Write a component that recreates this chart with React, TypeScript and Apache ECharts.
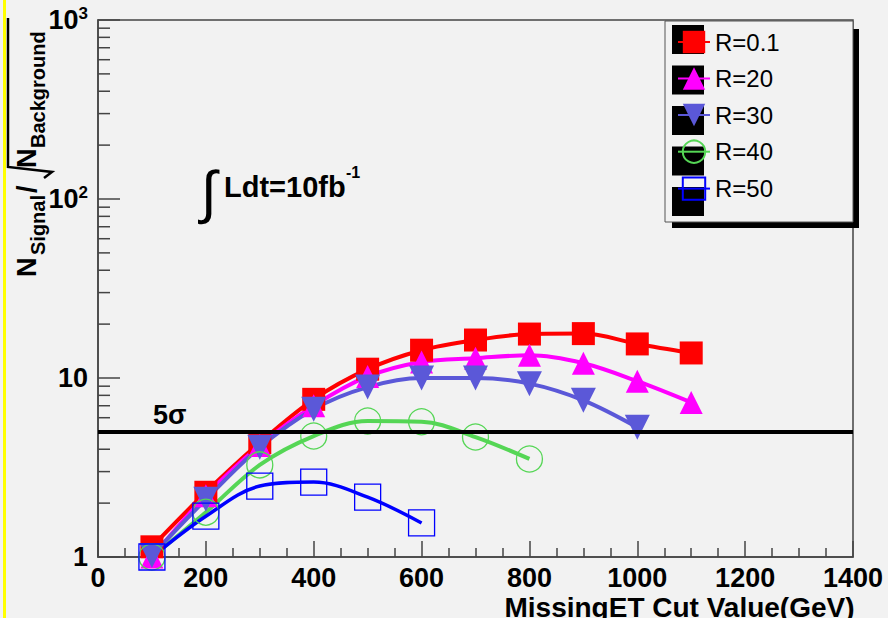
import React, { useEffect, useRef } from "react";
import * as echarts from "echarts";

// ---------------- data ----------------
const cutValues = [100, 200, 300, 400, 500, 600, 700, 800, 900, 1000, 1100];
const seriesNames = ["R=0.1", "R=20", "R=30", "R=40", "R=50"];
const sigR01 = [1.14, 2.3, 4.35, 7.6, 11.2, 14.3, 16.3, 17.6, 17.7, 15.5, 13.8];
const sigR20 = [1.0, 2.2, 4.2, 7.0, 10.2, 12.3, 12.9, 13.4, 12.1, 9.6, 7.3];
const sigR30 = [1.02, 2.1, 4.1, 6.7, 8.9, 10.0, 10.0, 9.3, 7.5, 5.3];
const sigR40 = [1.0, 1.78, 3.27, 4.74, 5.75, 5.7, 4.68, 3.53];
const sigR50 = [1.0, 1.69, 2.49, 2.62, 2.16, 1.55];
const fiveSigma = 5;
const yMinorTicks = [2, 3, 4, 5, 6, 7, 8, 9, 20, 30, 40, 50, 60, 70, 80, 90, 200, 300, 400, 500, 600, 700, 800, 900];
const seriesColors = ["#ff0000", "#ff00ff", "#5b58d8", "#55d655", "#0000ff"];

const FONT = '"Liberation Sans", Arial, Helvetica, sans-serif';

const pair = (vals: number[]) => vals.map((v, i) => [cutValues[i], v]);

const LEG_TOP = 25;
const LEG_LEFT = 672;
const LEG_IH = 28;
const LEG_GAP = 12.5;

export default function App() {
  const ref = useRef<HTMLDivElement>(null);

  useEffect(() => {
    if (!ref.current) return;
    const chart = echarts.init(ref.current, undefined, { renderer: "svg" });

    const baseLine = (i: number, vals: number[], symbol: string, size: number, hollow: boolean, extra: any = {}) => ({
      name: seriesNames[i],
      type: "line",
      data: pair(vals),
      smooth: 0.35,
      symbol,
      symbolSize: size,
      showAllSymbol: true,
      clip: false,
      itemStyle: hollow
        ? { color: "rgba(0,0,0,0)", borderColor: seriesColors[i], borderWidth: 1.3 }
        : { color: seriesColors[i] },
      lineStyle: { color: seriesColors[i], width: 4 },
      emphasis: { disabled: true },
      ...extra,
    });

    const legendBoxes = seriesNames.map((_, i) => ({
      type: "rect",
      z: 3,
      silent: true,
      shape: { x: LEG_LEFT, y: LEG_TOP + i * (LEG_IH + LEG_GAP), width: 32, height: LEG_IH + 1 },
      style: { fill: "#000" },
    }));

    const option: any = {
      animation: false,
      backgroundColor: "#f2f2f2",
      textStyle: { fontFamily: FONT },
      grid: {
        left: 98,
        top: 20,
        right: 35,
        bottom: 61,
        containLabel: false,
        outerBoundsMode: "none",
        show: true,
        borderColor: "#444",
        borderWidth: 1.5,
        backgroundColor: "transparent",
      },
      xAxis: {
        type: "value",
        min: 0,
        max: 1400,
        interval: 200,
        name: "MissingET Cut Value(GeV)",
        nameLocation: "middle",
        nameGap: 39,
        nameMoveOverlap: false,
        nameTextStyle: {
          padding: [0, 0, 0, 408],
          fontSize: 28,
          lineHeight: 22,
          fontWeight: "bold",
          fontFamily: FONT,
          color: "#000",
        },
        axisLine: { show: true, lineStyle: { color: "#444", width: 1.5 } },
        axisTick: { show: true, inside: true, length: 16, lineStyle: { color: "#444", width: 1.5 } },
        minorTick: { show: true, splitNumber: 4, length: 9, lineStyle: { color: "#444", width: 1.5 } },
        splitLine: { show: false },
        axisLabel: {
          margin: 7,
          fontSize: 27,
          fontWeight: "bold",
          fontFamily: FONT,
          color: "#000",
          formatter: (v: number) => String(v),
        },
      },
      yAxis: {
        type: "log",
        logBase: 10,
        min: 1,
        max: 1000,
        axisLine: { show: true, lineStyle: { color: "#444", width: 1.5 } },
        axisTick: { show: true, inside: true, length: 22, lineStyle: { color: "#444", width: 1.5 } },
        splitLine: { show: false },
        axisLabel: {
          margin: 10,
          fontSize: 27,
          fontWeight: "bold",
          fontFamily: FONT,
          color: "#000",
          formatter: (v: number) => {
            const p = Math.round(Math.log10(v));
            if (p <= 1) return String(Math.round(v));
            return "{b|10}{s|" + p + "}";
          },
          rich: {
            b: { fontSize: 27, fontWeight: "bold", fontFamily: FONT, color: "#000", lineHeight: 30 },
            s: { fontSize: 17, fontWeight: "bold", fontFamily: FONT, color: "#000", lineHeight: 10, verticalAlign: "top" },
          },
        },
      },
      legend: {
        data: seriesNames,
        orient: "vertical",
        left: LEG_LEFT,
        top: LEG_TOP,
        itemWidth: 32,
        itemHeight: LEG_IH,
        itemGap: LEG_GAP,
        selectedMode: false,
        z: 5,
        textStyle: { fontSize: 24, fontFamily: FONT, color: "#000" },
      },
      series: [
        baseLine(0, sigR01, "rect", 23, false, {
          markLine: {
            silent: true,
            symbol: ["none", "none"],
            data: [{ yAxis: fiveSigma }],
            lineStyle: { color: "#000", width: 4, type: "solid" },
            emphasis: { disabled: true },
            label: {
              show: true,
              position: "insideStartTop",
              formatter: "5σ",
              distance: [55, 3],
              color: "#000",
              fontSize: 27,
              fontWeight: "bold",
              fontFamily: FONT,
            },
          },
        }),
        baseLine(1, sigR20, "triangle", 23, false),
        baseLine(2, sigR30, "path://M0,0L20,0L10,20Z", 25, false),
        baseLine(3, sigR40, "circle", 26, true),
        baseLine(4, sigR50, "rect", 26, true, { lineStyle: { color: seriesColors[4], width: 3.5 } }),
        {
          name: "yMinorTicks",
          type: "custom",
          coordinateSystem: "cartesian2d",
          silent: true,
          clip: false,
          data: yMinorTicks.map((v) => [0, v]),
          encode: { x: 0, y: 1 },
          renderItem: (_params: any, api: any) => {
            const p = api.coord([0, api.value(1)]);
            return {
              type: "line",
              shape: { x1: p[0], y1: p[1], x2: p[0] + 12, y2: p[1] },
              style: { stroke: "#444", lineWidth: 1.5 },
            };
          },
        },
      ],
      graphic: [
        { type: "rect", silent: true, shape: { x: 3, y: 0, width: 3, height: 618 }, style: { fill: "#ffff00" } },
        // legend frame with shadow
        { type: "rect", z: 3, silent: true, shape: { x: 672, y: 29, width: 187, height: 199 }, style: { fill: "#000" } },
        {
          type: "rect",
          z: 3,
          silent: true,
          shape: { x: 665, y: 21, width: 188, height: 201 },
          style: { fill: "#f2f2f2", stroke: "#555", lineWidth: 1 },
        },
        ...legendBoxes,
        // y-axis title (rotated)
        {
          type: "group",
          x: 0,
          y: 277,
          rotation: Math.PI / 2,
          silent: true,
          children: [
            { type: "text", style: { x: 0, y: 27, text: "N", fontSize: 27, fontWeight: "bold", fontFamily: FONT, fill: "#000", align: "left", verticalAlign: "middle" } },
            { type: "text", style: { x: 22, y: 38, text: "Signal", fontSize: 20, fontWeight: "bold", fontFamily: FONT, fill: "#000", align: "left", verticalAlign: "middle" } },
            { type: "text", style: { x: 84, y: 27, text: "/", fontSize: 27, fontWeight: "bold", fontFamily: FONT, fill: "#000", align: "left", verticalAlign: "middle" } },
            { type: "text", style: { x: 109, y: 27, text: "N", fontSize: 27, fontWeight: "bold", fontFamily: FONT, fill: "#000", align: "left", verticalAlign: "middle" } },
            { type: "text", style: { x: 129, y: 38, text: "Background", fontSize: 20, fontWeight: "bold", fontFamily: FONT, fill: "#000", align: "left", verticalAlign: "middle" } },
          ],
        },
        {
          type: "polyline",
          silent: true,
          shape: { points: [[8, 18], [8, 167], [52, 172], [44, 178]] },
          style: { stroke: "#000", lineWidth: 2.5, fill: "none" },
        },
        // luminosity annotation
        { type: "text", silent: true, style: { x: 201, y: 191, text: "∫", fontSize: 58, fontFamily: FONT, fill: "#000", align: "left", verticalAlign: "middle" } },
        { type: "text", silent: true, style: { x: 224, y: 187, text: "Ldt=10fb", fontSize: 29, fontWeight: "bold", fontFamily: FONT, fill: "#000", align: "left", verticalAlign: "middle" } },
        { type: "text", silent: true, style: { x: 346, y: 172, text: "-1", fontSize: 16, fontWeight: "bold", fontFamily: FONT, fill: "#000", align: "left", verticalAlign: "middle" } },
      ],
    };

    chart.setOption(option);
    return () => chart.dispose();
  }, []);

  return (
    <div
      ref={ref}
      style={{ position: "absolute", left: 0, top: 0, width: 888, height: 618 }}
    />
  );
}
